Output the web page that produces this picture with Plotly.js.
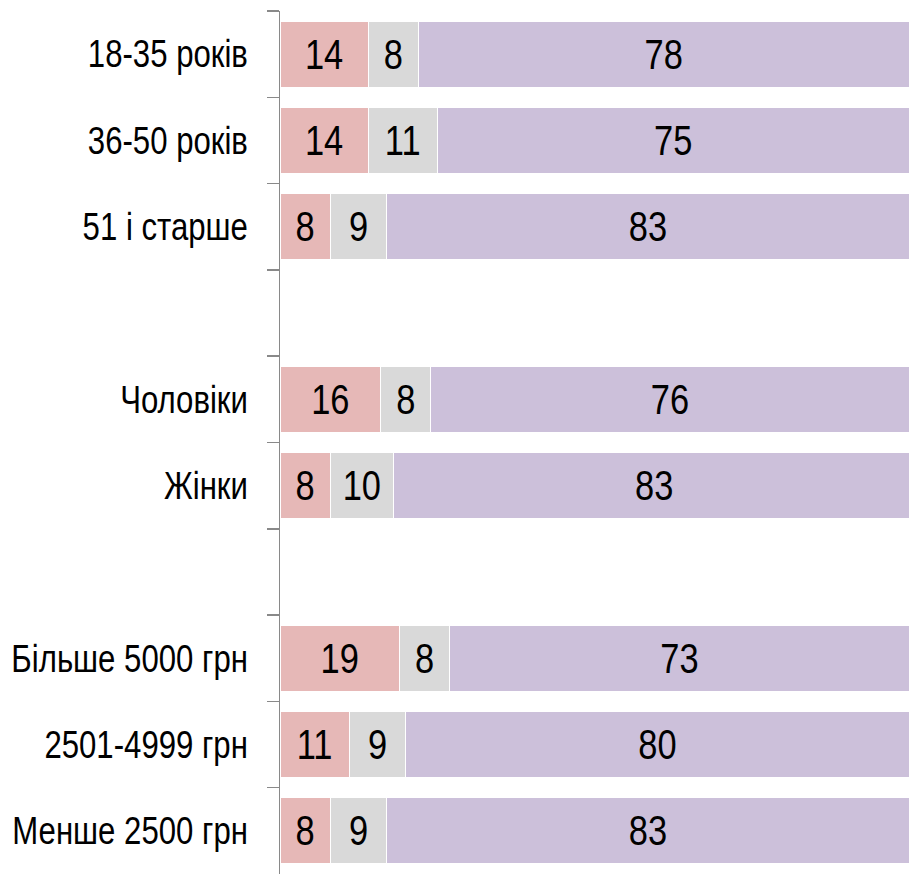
<!DOCTYPE html>
<html>
<head>
<meta charset="utf-8">
<script src="https://cdn.plot.ly/plotly-3.0.1.min.js"></script>
<style>html,body{margin:0;padding:0;background:#fff;}#chart{width:909px;height:874px;}</style>
</head>
<body>
<div id="chart"></div>
<script>
const categories = ["18-35 років", "36-50 років", "51 і старше", " ", "Чоловіки", "Жінки", "  ", "Більше 5000 грн", "2501-4999 грн", "Менше 2500 грн"];
const seriesA = [14, 14, 8, null, 16, 8, null, 19, 11, 8];
const seriesB = [8, 11, 9, null, 8, 10, null, 8, 9, 9];
const seriesC = [78, 75, 83, null, 76, 83, null, 73, 80, 83];
const colors = ["#E6B8B7", "#D9D9D9", "#CCC0DA"];

const FONT = "'Liberation Sans', Arial, sans-serif";
const NARROW = 0.82;

function mk(vals, color) {
  return {
    type: "bar", orientation: "h",
    y: categories, x: vals,
    text: vals.map(v => v == null ? "" : String(v)),
    textposition: "inside", insidetextanchor: "middle", textangle: 0,
    constraintext: "none",
    textfont: {family: FONT, size: 42, color: "#000"},
    marker: {color: color, line: {color: "#ffffff", width: 1}},
    hoverinfo: "skip"
  };
}

const data = [mk(seriesA, colors[0]), mk(seriesB, colors[1]), mk(seriesC, colors[2])];

const layout = {
  width: 909, height: 874,
  margin: {l: 280, r: 0, t: 11, b: 0, pad: 0},
  barmode: "stack", bargap: 0.235,
  showlegend: false,
  paper_bgcolor: "#fff", plot_bgcolor: "#fff",
  font: {family: FONT, color: "#000"},
  xaxis: {range: [0, 100], visible: false, fixedrange: true},
  yaxis: {
    type: "category", autorange: "reversed",
    tickson: "boundaries", ticks: "outside", ticklen: 12, tickwidth: 1.5, tickcolor: "#898989",
    showline: true, linecolor: "#898989", linewidth: 1.5,
    showgrid: false, zeroline: false,
    tickfont: {family: FONT, size: 38, color: "#000"},
    ticklabelstandoff: 23
  }
};

function narrowText(gd) {
  const nodes = gd.querySelectorAll("g.ytick text, text.bartext");
  nodes.forEach(t => {
    const x = parseFloat(t.getAttribute("x") || "0");
    const tr = t.getAttribute("transform") || "";
    t.setAttribute("transform", tr + " translate(" + x + ",0) scale(" + NARROW + ",1) translate(" + (-x) + ",0)");
  });
}

Plotly.newPlot("chart", data, layout, {displayModeBar: false, staticPlot: true}).then(narrowText);
</script>
</body>
</html>
